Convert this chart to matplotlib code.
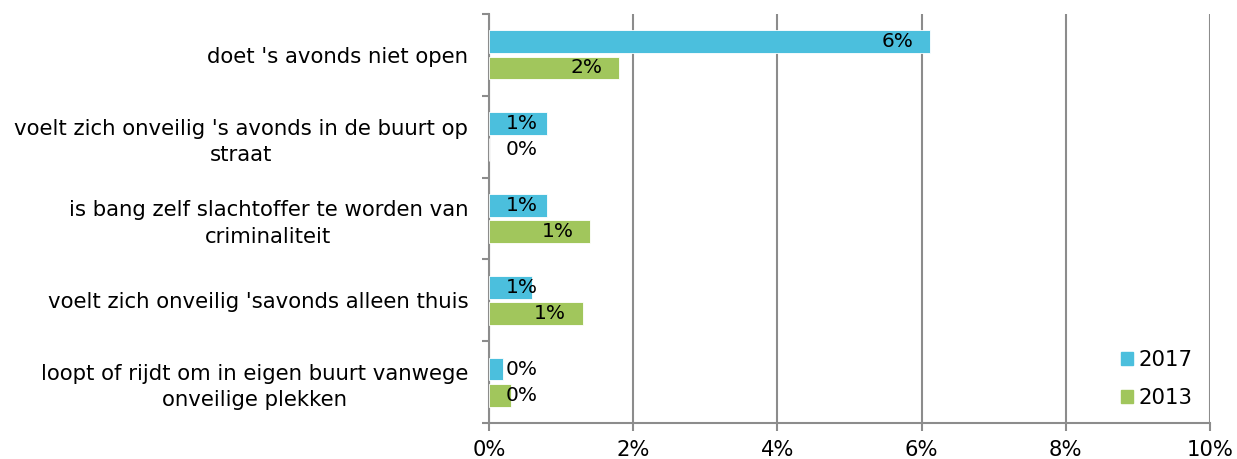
import matplotlib

matplotlib.use("Agg")

import matplotlib.pyplot as plt
import numpy as np
from matplotlib.patches import Patch

categories = [
    "doet 's avonds niet open",
    "voelt zich onveilig 's avonds in de buurt op\nstraat",
    "is bang zelf slachtoffer te worden van\ncriminaliteit",
    "voelt zich onveilig 'savonds alleen thuis",
    "loopt of rijdt om in eigen buurt vanwege\nonveilige plekken",
]
values_2017 = [6.12, 0.8, 0.8, 0.6, 0.2]
values_2013 = [1.8, 0.0, 1.4, 1.3, 0.3]
labels_2017 = ["6%", "1%", "1%", "1%", "0%"]
labels_2013 = ["2%", "0%", "1%", "1%", "0%"]
x_ticks = [0, 2, 4, 6, 8, 10]

BLUE = "#4BBFDD"
GREEN = "#A1C65C"
GRAY = "#8C8C8C"
FS = 14.5

fig = plt.figure(figsize=(12.37, 4.59), dpi=100)
ax = fig.add_axes([489 / 1237, 36 / 459, 721 / 1237, 409 / 459])

y = np.arange(len(categories))
offset = 0.16
height = 0.28

ax.barh(y - offset, values_2017, height=height, color=BLUE, edgecolor="white", linewidth=0.6, zorder=3)
ax.barh(y + offset, values_2013, height=height, color=GREEN, edgecolor="white", linewidth=0.6, zorder=3)

for yi, v, lab in zip(y, values_2017, labels_2017):
    ax.text(max(v - 0.23, 0.68), yi - offset, lab, ha="right", va="center", fontsize=FS, zorder=4)
for yi, v, lab in zip(y, values_2013, labels_2013):
    ax.text(max(v - 0.23, 0.68), yi + offset, lab, ha="right", va="center", fontsize=FS, zorder=4)

ax.set_xlim(0, 10)
ax.set_ylim(len(categories) - 0.5, -0.5)
ax.set_xticks(x_ticks)
ax.set_xticklabels([f"{t}%" for t in x_ticks], fontsize=15.2)
ax.set_yticks(y)
ax.set_yticklabels(categories, fontsize=15.3, ha="right", multialignment="center", linespacing=1.4)
ax.tick_params(axis="y", length=0, pad=15)
ax.set_yticks(np.arange(-0.5, len(categories), 1), minor=True)
ax.tick_params(axis="y", which="minor", length=5, color=GRAY, width=1.5)
ax.tick_params(axis="x", length=6, color=GRAY, width=1.5, pad=6)

ax.grid(axis="x", color=GRAY, linewidth=1.5, zorder=0)
for side in ["top", "right"]:
    ax.spines[side].set_visible(False)
for side in ["left", "bottom"]:
    ax.spines[side].set_color(GRAY)
    ax.spines[side].set_linewidth(1.5)

handles = [Patch(color=BLUE, label="2017"), Patch(color=GREEN, label="2013")]
leg = ax.legend(handles=handles, loc="lower right", bbox_to_anchor=(1.005, -0.015), frameon=True,
                fontsize=15.3, handlelength=0.55, handleheight=0.55, handletextpad=0.25,
                labelspacing=0.85, borderpad=0.5)
leg.get_frame().set_edgecolor("none")
leg.get_frame().set_facecolor("white")
leg.get_frame().set_alpha(1)
leg.set_zorder(5)

fig.savefig("out.png", dpi=100)
